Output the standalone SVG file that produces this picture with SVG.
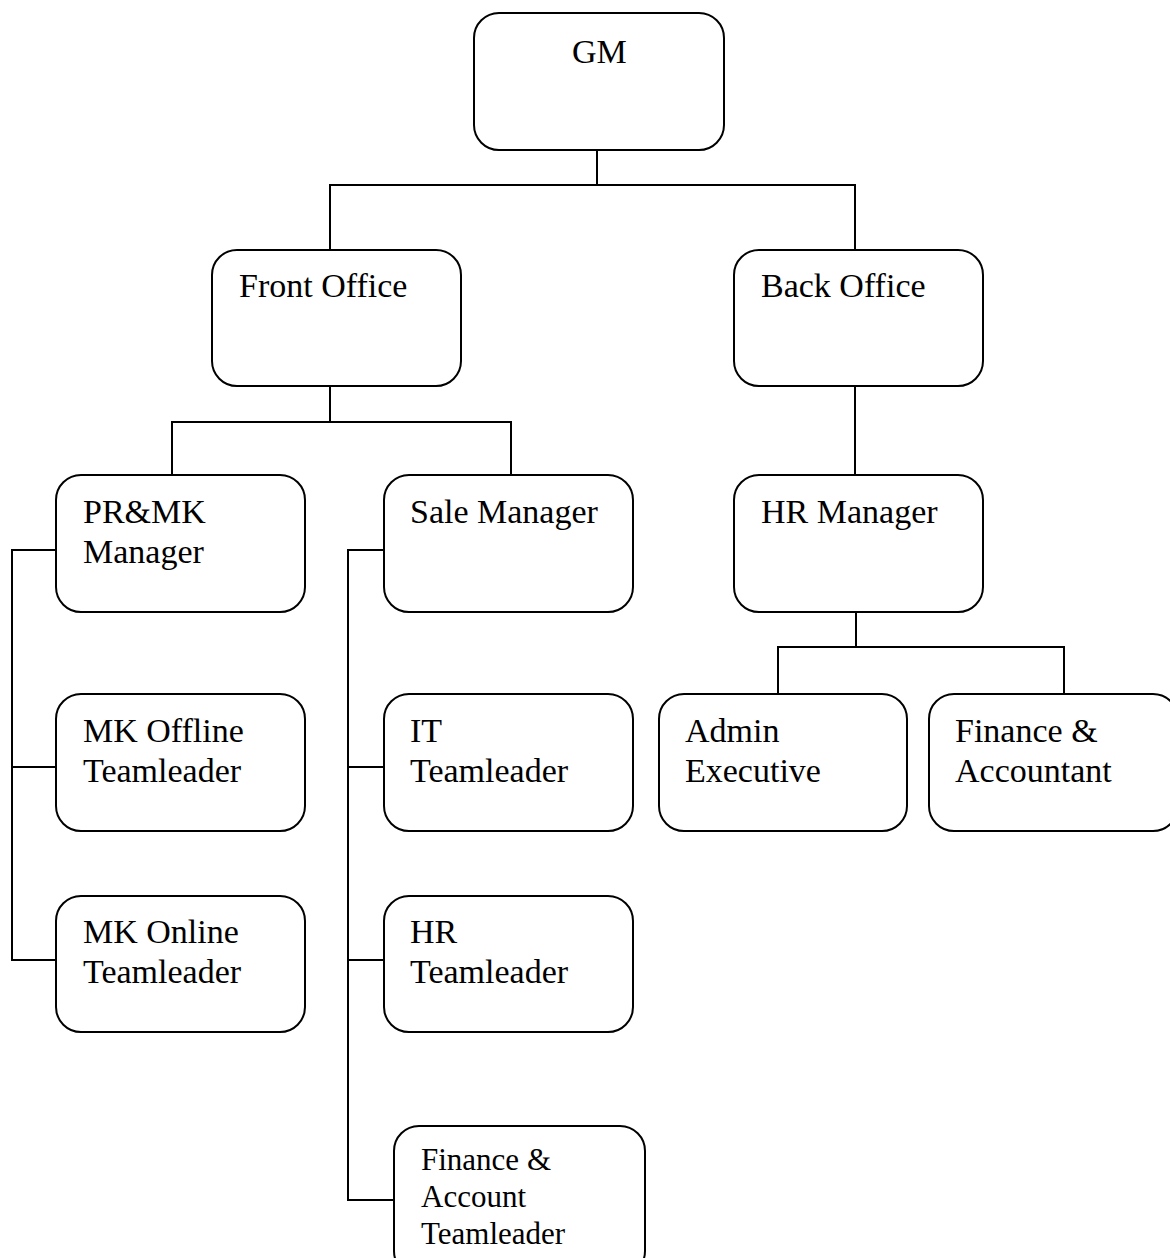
<svg xmlns="http://www.w3.org/2000/svg" width="1170" height="1258" viewBox="0 0 1170 1258">
<style>
.box{fill:#fff;stroke:#000;stroke-width:2}
.ln{fill:none;stroke:#000;stroke-width:2}
text{font-family:"Liberation Serif","Times New Roman",serif;font-size:34px;fill:#000}
.sm{font-size:31px}
</style>
<rect width="1170" height="1258" fill="#fff"/>
<g id="connectors">
<path class="ln" d="M597 150V185M330 250V185H855V250"/>
<path class="ln" d="M330 386V422M172 475V422H511V475"/>
<path class="ln" d="M855 386V475"/>
<path class="ln" d="M856 612V647M778 694V647H1064V694"/>
<path class="ln" d="M56 550H12V960H56M12 767H56"/>
<path class="ln" d="M384 550H348V1200H394M348 767H384M348 960H384"/>
</g>
<g id="gm"><rect class="box" x="474" y="13" width="250" height="137" rx="25"/><text x="572" y="63">GM</text></g>
<g id="front-office"><rect class="box" x="212" y="250" width="249" height="136" rx="25"/><text x="239" y="297">Front Office</text></g>
<g id="back-office"><rect class="box" x="734" y="250" width="249" height="136" rx="25"/><text x="761" y="297">Back Office</text></g>
<g id="prmk-manager"><rect class="box" x="56" y="475" width="249" height="137" rx="25"/><text x="83" y="523">PR&amp;MK</text><text x="83" y="563">Manager</text></g>
<g id="sale-manager"><rect class="box" x="384" y="475" width="249" height="137" rx="25"/><text x="410" y="523">Sale Manager</text></g>
<g id="hr-manager"><rect class="box" x="734" y="475" width="249" height="137" rx="25"/><text x="761" y="523">HR Manager</text></g>
<g id="mk-offline"><rect class="box" x="56" y="694" width="249" height="137" rx="25"/><text x="83" y="742">MK Offline</text><text x="83" y="782">Teamleader</text></g>
<g id="it-teamleader"><rect class="box" x="384" y="694" width="249" height="137" rx="25"/><text x="410" y="742">IT</text><text x="410" y="782">Teamleader</text></g>
<g id="admin-executive"><rect class="box" x="659" y="694" width="248" height="137" rx="25"/><text x="685" y="742">Admin</text><text x="685" y="782">Executive</text></g>
<g id="finance-accountant"><rect class="box" x="929" y="694" width="249" height="137" rx="25"/><text x="955" y="742">Finance &amp;</text><text x="955" y="782">Accountant</text></g>
<g id="mk-online"><rect class="box" x="56" y="896" width="249" height="136" rx="25"/><text x="83" y="943">MK Online</text><text x="83" y="983">Teamleader</text></g>
<g id="hr-teamleader"><rect class="box" x="384" y="896" width="249" height="136" rx="25"/><text x="410" y="943">HR</text><text x="410" y="983">Teamleader</text></g>
<g id="finance-account-teamleader"><rect class="box" x="394" y="1126" width="251" height="150" rx="25"/><text class="sm" x="421" y="1170">Finance &amp;</text><text class="sm" x="421" y="1207">Account</text><text class="sm" x="421" y="1244">Teamleader</text></g>
</svg>
